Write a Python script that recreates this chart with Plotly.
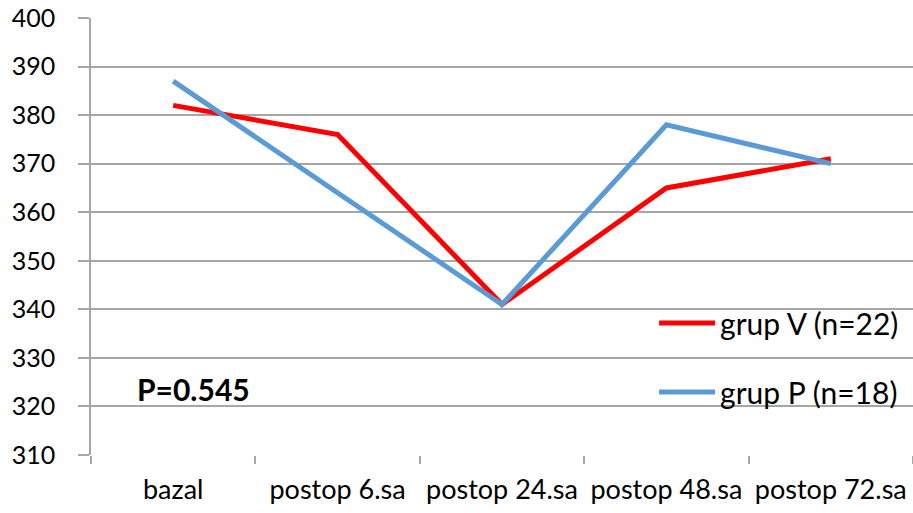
import plotly.graph_objects as go

categories = ["bazal", "postop 6.sa", "postop 24.sa", "postop 48.sa", "postop 72.sa"]
grup_v = [382, 376, 341, 365, 371]
grup_p = [387, 364, 341, 378, 370]
y_ticks = list(range(310, 401, 10))
p_text = "P=0.545"

FONT = "Lato"
GRID = "#a6a6a6"

fig = go.Figure()
fig.add_trace(go.Scatter(x=categories, y=grup_v, mode="lines", name="grup V (n=22)",
                         line=dict(color="#ff0000", width=5), legend="legend"))
fig.add_trace(go.Scatter(x=categories, y=grup_p, mode="lines", name="grup P (n=18)",
                         line=dict(color="#5b9bd5", width=5), legend="legend2"))

fig.update_layout(
    width=913, height=513,
    margin=dict(l=91, r=0, t=18, b=58, autoexpand=False),
    paper_bgcolor="white", plot_bgcolor="white",
    font=dict(family=FONT, size=22, color="black"),
    showlegend=True,
    legend=dict(x=0.685, y=0.302, xanchor="left", yanchor="middle", bgcolor="rgba(0,0,0,0)",
                font=dict(size=30), itemwidth=56),
    legend2=dict(x=0.685, y=0.144, xanchor="left", yanchor="middle", bgcolor="rgba(0,0,0,0)",
                 font=dict(size=30), itemwidth=56),
    xaxis=dict(type="category", range=[-0.5, 4.5], tickson="boundaries", ticks="outside",
               ticklen=8, tickcolor=GRID, tickwidth=1.5, showgrid=False, showline=False,
               zeroline=False, tickfont=dict(size=27), ticklabelstandoff=16, automargin=False),
    yaxis=dict(range=[310, 400], tickvals=y_ticks, ticks="outside", ticklen=11,
               tickcolor=GRID, tickwidth=1.5, showgrid=True, gridcolor=GRID, gridwidth=1.5,
               showline=True, linecolor=GRID, linewidth=1.5, zeroline=False,
               tickfont=dict(size=25), ticklabelstandoff=18, ticklabeloverflow="allow",
               automargin=False),
    annotations=[dict(x=0.125, xref="paper", xanchor="center", y=323.5, yref="y",
                      text="<b>" + p_text + "</b>",
                      showarrow=False, font=dict(size=30, color="black"))],
)

fig.write_html("out.html", config={"displayModeBar": False},
               post_script="document.body.style.margin='0';")
